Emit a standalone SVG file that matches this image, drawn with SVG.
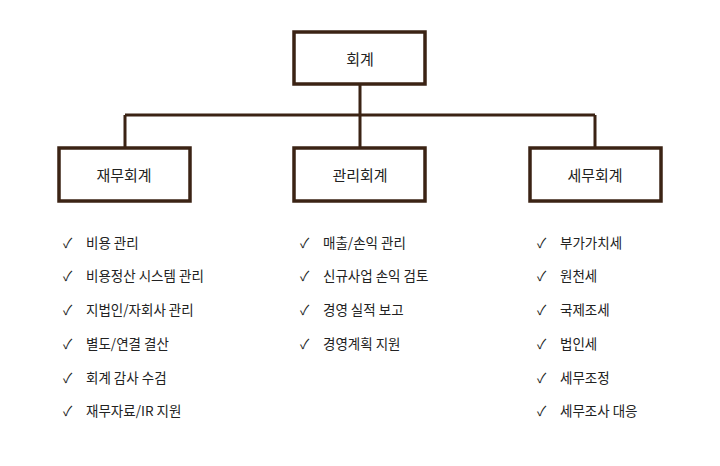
<svg xmlns="http://www.w3.org/2000/svg" width="720" height="466" viewBox="0 0 720 466">
<style>
.box{fill:#fff;stroke:#3b2314;stroke-width:3.5}
.ln{stroke:#3b2314;stroke-width:3;fill:none}
.t{font-family:"Noto Sans CJK KR","Noto Sans",sans-serif;font-size:15px;fill:#222;text-anchor:middle;dominant-baseline:central}
.i{font-family:"Noto Sans CJK KR","Noto Sans",sans-serif;font-size:13.5px;fill:#222;dominant-baseline:central}
</style>
<rect width="720" height="466" fill="#fff"/>
<g id="connectors">
<path class="ln" d="M360 84V148M125 115H595M125 115V148M595 115V148"/>
</g>
<g id="root"><rect class="box" x="294" y="32" width="131" height="52"/><text class="t" x="360" y="58">회계</text></g>
<g id="fin"><rect class="box" x="59" y="148" width="131" height="53"/><text class="t" x="124" y="174">재무회계</text></g>
<g id="mgmt"><rect class="box" x="294" y="148" width="131" height="53"/><text class="t" x="360" y="174">관리회계</text></g>
<g id="tax"><rect class="box" x="530" y="148" width="131" height="53"/><text class="t" x="595" y="174">세무회계</text></g>
<g id="finList" class="i">
<text class="i" x="63" y="242">✓</text><text class="i" x="86" y="242">비용 관리</text>
<text class="i" x="63" y="275">✓</text><text class="i" x="86" y="275">비용정산 시스템 관리</text>
<text class="i" x="63" y="309">✓</text><text class="i" x="86" y="309">지법인/자회사 관리</text>
<text class="i" x="63" y="343">✓</text><text class="i" x="86" y="343">별도/연결 결산</text>
<text class="i" x="63" y="377">✓</text><text class="i" x="86" y="377">회계 감사 수검</text>
<text class="i" x="63" y="410">✓</text><text class="i" x="86" y="410">재무자료/IR 지원</text>
</g>
<g id="mgmtList">
<text class="i" x="300" y="242">✓</text><text class="i" x="323" y="242">매출/손익 관리</text>
<text class="i" x="300" y="275">✓</text><text class="i" x="323" y="275">신규사업 손익 검토</text>
<text class="i" x="300" y="309">✓</text><text class="i" x="323" y="309">경영 실적 보고</text>
<text class="i" x="300" y="343">✓</text><text class="i" x="323" y="343">경영계획 지원</text>
</g>
<g id="taxList">
<text class="i" x="537" y="242">✓</text><text class="i" x="560" y="242">부가가치세</text>
<text class="i" x="537" y="275">✓</text><text class="i" x="560" y="275">원천세</text>
<text class="i" x="537" y="309">✓</text><text class="i" x="560" y="309">국제조세</text>
<text class="i" x="537" y="343">✓</text><text class="i" x="560" y="343">법인세</text>
<text class="i" x="537" y="377">✓</text><text class="i" x="560" y="377">세무조정</text>
<text class="i" x="537" y="410">✓</text><text class="i" x="560" y="410">세무조사 대응</text>
</g>
</svg>
